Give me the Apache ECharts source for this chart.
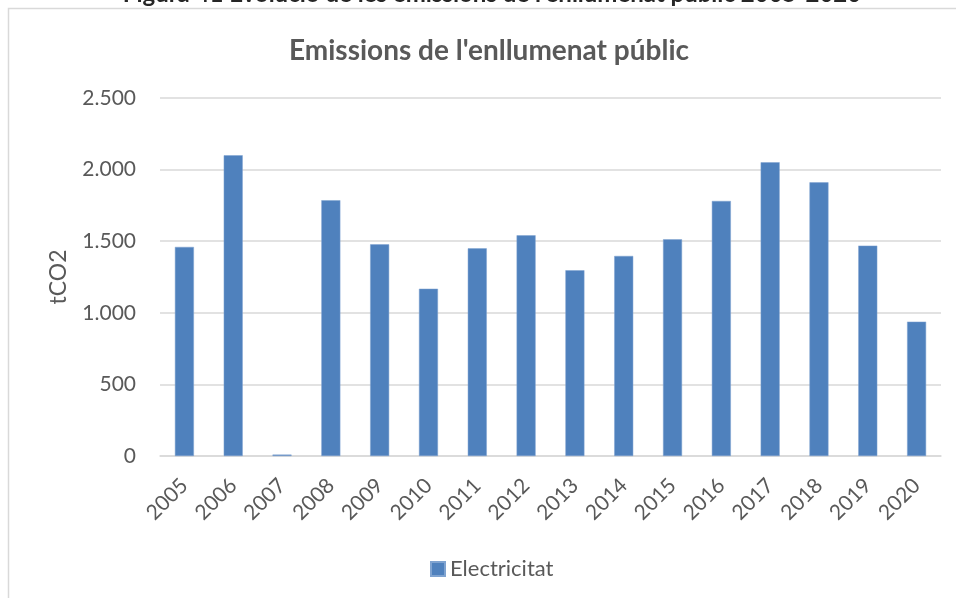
<!DOCTYPE html>
<html>
<head>
<meta charset="utf-8">
<script src="https://cdn.jsdelivr.net/npm/echarts@6/dist/echarts.min.js"></script>
<style>
  html, body { margin: 0; padding: 0; background: #fff; }
  #chart { width: 956px; height: 598px; }
</style>
</head>
<body>
<div id="chart"></div>
<script>
// anys i emissions (tCO2) llegits del gràfic
var years = ['2005', '2006', '2007', '2008', '2009', '2010', '2011', '2012',
             '2013', '2014', '2015', '2016', '2017', '2018', '2019', '2020'];
var electricitat = [1460, 2100, 10, 1786, 1478, 1168, 1450, 1541,
                    1297, 1397, 1513, 1781, 2051, 1911, 1469, 938];
var yTicks = [0, 500, 1000, 1500, 2000, 2500];

var txt = '#595959';
var fontFam = 'Lato, "Noto Sans", sans-serif';

var myChart = echarts.init(document.getElementById('chart'));

var option = {
    backgroundColor: '#fff',
    animation: false,
    title: {
        text: "Emissions de l'enllumenat públic",
        left: 484,
        textAlign: 'center',
        top: 32,
        textStyle: { color: txt, fontSize: 28, fontWeight: 'bold', fontFamily: fontFam }
    },
    graphic: [
        {
            type: 'rect',
            shape: { x: 8.5, y: 8.5, width: 1000, height: 700 },
            style: { fill: 'none', stroke: '#D9D9D9', lineWidth: 1.5 },
            silent: true
        },
        {
            type: 'text',
            x: 492,
            y: -6,
            style: {
                text: "Figura 41 Evolució de les emissions de l'enllumenat públic 2005-2020",
                fill: '#262626',
                font: 'bold 24px ' + fontFam,
                textAlign: 'center',
                textVerticalAlign: 'middle'
            }
        }
    ],
    legend: {
        data: ['Electricitat'],
        left: 425,
        top: 553,
        icon: 'rect',
        itemWidth: 14,
        itemHeight: 14,
        itemGap: 8,
        textStyle: { color: txt, fontSize: 22, fontFamily: fontFam }
    },
    grid: {
        left: 160,
        right: 15,
        top: 98,
        bottom: 142
    },
    xAxis: {
        type: 'category',
        data: years,
        axisLine: { lineStyle: { color: '#D9D9D9', width: 1.5 } },
        axisTick: { show: false },
        axisLabel: {
            rotate: 45,
            margin: 26,
            color: txt,
            fontSize: 21,
            fontFamily: fontFam
        }
    },
    yAxis: {
        type: 'value',
        min: yTicks[0],
        max: yTicks[yTicks.length - 1],
        interval: 500,
        name: 'tCO2',
        nameLocation: 'middle',
        nameRotate: 90,
        nameGap: 90,
        nameTextStyle: { color: txt, fontSize: 23, fontFamily: fontFam },
        axisLine: { show: false },
        axisTick: { show: false },
        splitLine: { lineStyle: { color: '#D9D9D9', width: 1.5 } },
        axisLabel: {
            margin: 24,
            color: txt,
            fontSize: 21,
            fontFamily: fontFam,
            formatter: function (v) {
                return String(v).replace(/\B(?=(\d{3})+(?!\d))/g, '.');
            }
        }
    },
    series: [
        {
            name: 'Electricitat',
            type: 'bar',
            data: electricitat,
            barWidth: 19,
            itemStyle: { color: '#4F81BD', borderColor: '#7FA3D0', borderWidth: 0.5 }
        }
    ]
};

myChart.setOption(option);
</script>
</body>
</html>
